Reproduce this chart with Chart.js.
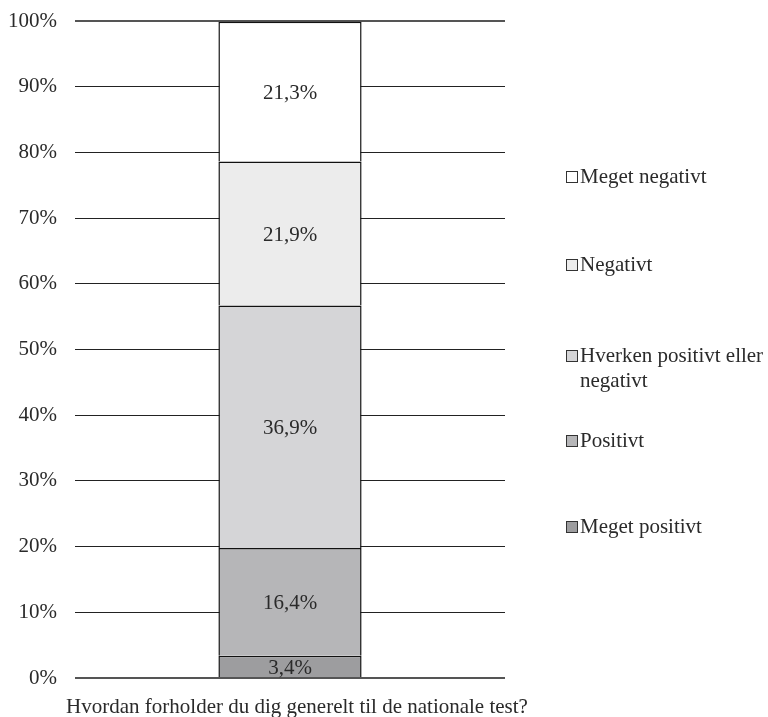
<!DOCTYPE html>
<html><head><meta charset="utf-8">
<script src="https://cdn.jsdelivr.net/npm/chart.js@4/dist/chart.umd.min.js"></script>
<style>html,body{margin:0;padding:0;background:#fff}</style>
</head><body>
<canvas id="c" width="768" height="717"></canvas>
<script>
const categories = ["Hvordan forholder du dig generelt til de nationale test?"];
const seriesLabels = ["Meget positivt", "Positivt", "Hverken positivt eller negativt", "Negativt", "Meget negativt"];
const legendLines = [["Meget positivt"], ["Positivt"], ["Hverken positivt eller", "negativt"], ["Negativt"], ["Meget negativt"]];
const megetPositivt = [3.4];
const positivt = [16.4];
const hverken = [36.9];
const negativt = [21.9];
const megetNegativt = [21.3];
const seriesValues = [megetPositivt, positivt, hverken, negativt, megetNegativt];
const colors = ["#9d9d9f", "#b6b6b8", "#d5d5d7", "#ececec", "#ffffff"];
const yTicks = [0,10,20,30,40,50,60,70,80,90,100];

const FONT = "'Liberation Serif', 'Times New Roman', serif";
const FS = 21;

const datasets = seriesLabels.map((l, i) => ({
  label: l,
  data: seriesValues[i],
  backgroundColor: colors[i],
  borderColor: "#111",
  borderWidth: { top: 1.5, left: 1.5, right: 1.5, bottom: 0 },
  borderSkipped: false,
  barPercentage: 0.333,
  categoryPercentage: 1.0
}));

const labelPlugin = {
  id: 'segLabels',
  afterDatasetsDraw(chart) {
    const ctx = chart.ctx;
    ctx.save();
    ctx.font = FS + "px " + FONT;
    ctx.fillStyle = "#2a2a2a";
    ctx.textAlign = "center";
    ctx.textBaseline = "middle";
    chart.data.datasets.forEach((ds, i) => {
      chart.getDatasetMeta(i).data.forEach((bar, j) => {
        const v = ds.data[j];
        const y = (bar.y + bar.base) / 2;
        ctx.fillText(v.toFixed(1).replace('.', ',') + '%', bar.x, y + 2);
      });
    });
    ctx.restore();
  }
};

const titlePlugin = {
  id: 'axisTitle',
  afterDraw(chart) {
    const ctx = chart.ctx;
    const a = chart.chartArea;
    ctx.save();
    ctx.font = FS + "px " + FONT;
    ctx.fillStyle = "#2a2a2a";
    ctx.textAlign = "center";
    ctx.textBaseline = "alphabetic";
    ctx.fillText(categories[0], (a.left + a.right) / 2 + 7, a.bottom + 35);
    ctx.restore();
  }
};

const legendPlugin = {
  id: 'sideLegend',
  afterDraw(chart) {
    const ctx = chart.ctx;
    const yScale = chart.scales.y;
    ctx.save();
    ctx.font = FS + "px " + FONT;
    ctx.textBaseline = "middle";
    ctx.textAlign = "left";
    const x0 = 566;
    const positions = [76.2, 62.8, 49.0, 36.1, 23.0];
    const order = [4, 3, 2, 1, 0];
    order.forEach((idx, k) => {
      const y = Math.round(yScale.getPixelForValue(positions[k]));
      ctx.fillStyle = colors[idx];
      ctx.fillRect(x0, y - 6, 11, 11);
      ctx.strokeStyle = "#333";
      ctx.lineWidth = 1;
      ctx.strokeRect(x0 + 0.5, y - 5.5, 11, 11);
      ctx.fillStyle = "#2a2a2a";
      legendLines[idx].forEach((line, li) => {
        ctx.fillText(line, x0 + 14, y + li * 25);
      });
    });
    ctx.restore();
  }
};

new Chart(document.getElementById('c'), {
  type: 'bar',
  data: { labels: categories, datasets },
  options: {
    responsive: false,
    animation: false,
    layout: { padding: { top: 21, right: 263, bottom: 39, left: 8 } },
    plugins: { legend: { display: false }, tooltip: { enabled: false } },
    scales: {
      x: {
        stacked: true,
        grid: { display: false, drawTicks: false },
        border: { display: false },
        ticks: { display: false },
        title: { display: false }
      },
      y: {
        stacked: true,
        min: 0, max: 100,
        afterFit(axis) { axis.width = 67; axis.paddingTop = 0; axis.paddingBottom = 0; },
        afterBuildTicks(axis) { axis.ticks = yTicks.map(v => ({ value: v })); },
        ticks: { callback: v => v + '%', color: "#2a2a2a", font: { family: FONT, size: FS }, padding: 18 },
        grid: {
          drawTicks: false,
          color: ctx => (ctx.tick && (ctx.tick.value === 0 || ctx.tick.value === 100)) ? "#555" : "#222",
          lineWidth: ctx => (ctx.tick && (ctx.tick.value === 0 || ctx.tick.value === 100)) ? 2 : 1
        },
        border: { display: false }
      }
    }
  },
  plugins: [labelPlugin, legendPlugin, titlePlugin]
});
</script>
</body></html>
